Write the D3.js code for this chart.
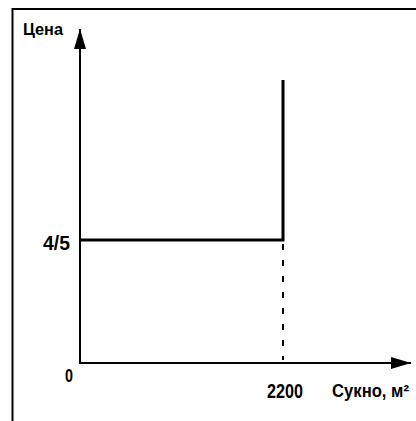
<!DOCTYPE html>
<html>
<head>
<meta charset="utf-8">
<script src="https://cdn.jsdelivr.net/npm/d3@7"></script>
<style>
  body { margin: 0; background: #fff; }
  text { font-family: "Liberation Sans", Arial, sans-serif; font-weight: bold; fill: #000; }
</style>
</head>
<body>
<div id="chart"></div>
<script>
var svgWidth = 416;
var svgHeight = 421;

// quantity of cloth and price (supply curve: flat at 4/5 until 2200, then vertical)
var quantities = [0, 2200, 2200];
var prices = [0.8, 0.8, 1.84];
var xTicks = [2200];
var yTicks = [0.8];
var yTickLabels = ["4/5"];

var svg = d3.select("#chart")
  .append("svg")
  .attr("width", svgWidth)
  .attr("height", svgHeight);

// scales: origin at (80, 363)
var xScale = d3.scaleLinear().domain([0, 2200]).range([80, 283]);
var yScale = d3.scaleLinear().domain([0, 0.8]).range([363, 240]);

var xMax = xScale.invert(413);
var yMax = yScale.invert(27);

// frame (left and top borders of the scan)
svg.append("path")
  .attr("d", "M12.5,421 L12.5,9 L416,9")
  .attr("fill", "none")
  .attr("stroke", "#000")
  .attr("stroke-width", 2);

// arrow markers
var defs = svg.append("defs");
defs.append("marker")
  .attr("id", "arrow")
  .attr("viewBox", "0 0 20 12")
  .attr("refX", 20)
  .attr("refY", 6)
  .attr("markerWidth", 20)
  .attr("markerHeight", 12)
  .attr("markerUnits", "userSpaceOnUse")
  .attr("orient", "auto")
  .append("path")
  .attr("d", "M0,0 L20,6 L0,12 Z")
  .attr("fill", "#000");

// axes
svg.append("line")
  .attr("x1", xScale(0)).attr("y1", yScale(0))
  .attr("x2", xScale(xMax) - 2).attr("y2", yScale(0))
  .attr("stroke", "#000").attr("stroke-width", 2)
  .attr("marker-end", "url(#arrow)");

svg.append("line")
  .attr("x1", xScale(0)).attr("y1", yScale(0) + 1)
  .attr("x2", xScale(0)).attr("y2", yScale(yMax) + 2)
  .attr("stroke", "#000").attr("stroke-width", 2)
  .attr("marker-end", "url(#arrow)");

// dashed drop line from the kink to the x axis
svg.append("line")
  .attr("x1", xScale(xTicks[0])).attr("y1", yScale(yTicks[0]) + 4)
  .attr("x2", xScale(xTicks[0])).attr("y2", yScale(0) - 3)
  .attr("stroke", "#000").attr("stroke-width", 2)
  .attr("stroke-dasharray", "6,10");

// supply curve
var line = d3.line()
  .x(function(d) { return xScale(d[0]); })
  .y(function(d) { return yScale(d[1]); });

svg.append("path")
  .datum(d3.zip(quantities, prices))
  .attr("d", line)
  .attr("fill", "none")
  .attr("stroke", "#000")
  .attr("stroke-width", 3);

// labels (narrow typeface imitated with textLength)
svg.append("text")
  .attr("x", 23).attr("y", 35)
  .attr("font-size", "17px")
  .attr("textLength", 40)
  .attr("lengthAdjust", "spacingAndGlyphs")
  .text("Цена");

svg.selectAll(".ytick")
  .data(yTicks)
  .enter()
  .append("text")
  .attr("class", "ytick")
  .attr("x", 43)
  .attr("y", function(d) { return yScale(d) + 10; })
  .attr("font-size", "20px")
  .attr("textLength", 27)
  .attr("lengthAdjust", "spacingAndGlyphs")
  .text(function(d, i) { return yTickLabels[i]; });

svg.append("text")
  .attr("x", 65).attr("y", 382)
  .attr("font-size", "18px")
  .attr("textLength", 8)
  .attr("lengthAdjust", "spacingAndGlyphs")
  .text("0");

svg.selectAll(".xtick")
  .data(xTicks)
  .enter()
  .append("text")
  .attr("class", "xtick")
  .attr("x", function(d) { return xScale(d) - 16; })
  .attr("y", 398)
  .attr("font-size", "20px")
  .attr("textLength", 36)
  .attr("lengthAdjust", "spacingAndGlyphs")
  .text(function(d) { return d; });

svg.append("text")
  .attr("x", 332).attr("y", 397)
  .attr("font-size", "18px")
  .attr("font-weight", "normal")
  .attr("textLength", 77)
  .attr("lengthAdjust", "spacingAndGlyphs")
  .text("Сукно,  м²");
</script>
</body>
</html>
